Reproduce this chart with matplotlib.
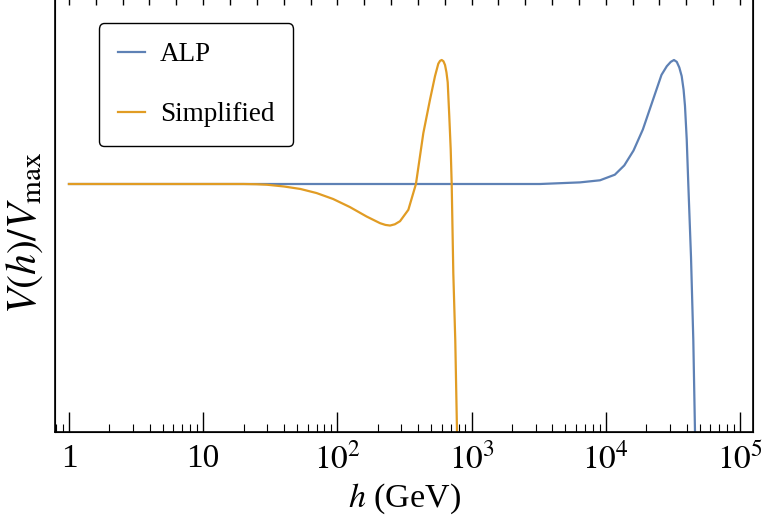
import numpy as np
import matplotlib
matplotlib.use("Agg")
import matplotlib.pyplot as plt

plt.rcParams['font.family'] = ['Liberation Serif', 'DejaVu Serif']
plt.rcParams['mathtext.fontset'] = 'stix'

# ALP potential, normalised to its maximum
h_alp = [1, 10, 100, 1000, 3236, 6420, 9060, 11680, 13740, 16100, 18900,
         22170, 26010, 28500, 30500, 32230, 33800, 35300, 36780, 38000,
         38920, 40100, 41200, 43160, 44900, 46220, 46500]
v_alp = [0, 0, 0, 0, 0, 0.013, 0.03, 0.075, 0.15, 0.27, 0.44,
         0.66, 0.88, 0.95, 0.985, 1.0, 0.985, 0.94, 0.87, 0.76,
         0.63, 0.36, 0, -0.59, -1.26, -2.0, -2.1]

# simplified model potential
h_simp = [1, 5, 20, 25, 30, 40, 53, 70, 93, 124, 165, 208, 228, 247, 268,
          293, 338, 385, 437, 490, 534, 565, 582, 599, 617, 634, 650, 664,
          682, 699, 711, 731, 756, 779, 785]
v_simp = [0, 0, 0, -0.002, -0.006, -0.02, -0.04, -0.073, -0.121, -0.186,
          -0.262, -0.316, -0.33, -0.335, -0.325, -0.30, -0.208, 0, 0.41,
          0.68, 0.87, 0.97, 0.993, 1.0, 0.99, 0.96, 0.90, 0.82, 0.55, 0.28,
          0, -0.72, -1.26, -2.0, -2.1]

xticks = [1, 10, 1e2, 1e3, 1e4, 1e5]
xticklabels = ['1', '10', r'$10^2$', r'$10^3$', r'$10^4$', r'$10^5$']
xlim = (10 ** -0.104, 10 ** 5.097)

blue = '#5E81B5'
orange = '#E19C24'

fig = plt.figure(figsize=(7.64, 5.25), dpi=100)
ax = fig.add_axes([55 / 764, 93 / 525, 698 / 764, 434 / 525])

ax.plot(h_alp, v_alp, color=blue, lw=1.6, label='ALP')
ax.plot(h_simp, v_simp, color=orange, lw=1.6, label='Simplified')

ax.set_xscale('log')
ax.set_xlim(*xlim)
ax.set_ylim(-2, 1.5)

ax.set_xticks(xticks)
ax.set_xticklabels(xticklabels, fontsize=24)
ax.xaxis.set_minor_locator(matplotlib.ticker.LogLocator(base=10, subs=np.arange(2, 10)))
ax.xaxis.set_minor_formatter(matplotlib.ticker.NullFormatter())
ax.tick_params(axis='x', which='major', direction='in', length=14.5, width=1, pad=8)
ax.tick_params(axis='x', which='minor', direction='in', length=5.5, width=0.8)
ax.set_yticks([])

# top frame ticks every fifth of a decade
ax2 = ax.twiny()
ax2.set_xscale('log')
ax2.set_xlim(*xlim)
ax2.set_xticks(10 ** np.arange(0, 5.01, 0.2))
ax2.xaxis.set_minor_locator(matplotlib.ticker.NullLocator())
ax2.set_xticklabels([])
ax2.tick_params(axis='x', which='major', direction='in', length=5, width=1)

for s in ax.spines.values():
    s.set_linewidth(1.2)

ax.set_xlabel(r'$h$ (GeV)', fontsize=24.5, labelpad=4)
ax.set_ylabel(r'$V(h)/V_{\mathrm{max}}$', fontsize=30)
ax.yaxis.set_label_coords(-0.014, 0.46)

leg = ax.legend(loc='upper left', bbox_to_anchor=(0.063, 0.942), fontsize=19.5,
                handlelength=1.0, handletextpad=0.55, labelspacing=1.3,
                borderpad=0.7, borderaxespad=0, fancybox=True,
                edgecolor='black', framealpha=1)
leg.get_frame().set_linewidth(1.0)

fig.savefig('out.png', dpi=100)
